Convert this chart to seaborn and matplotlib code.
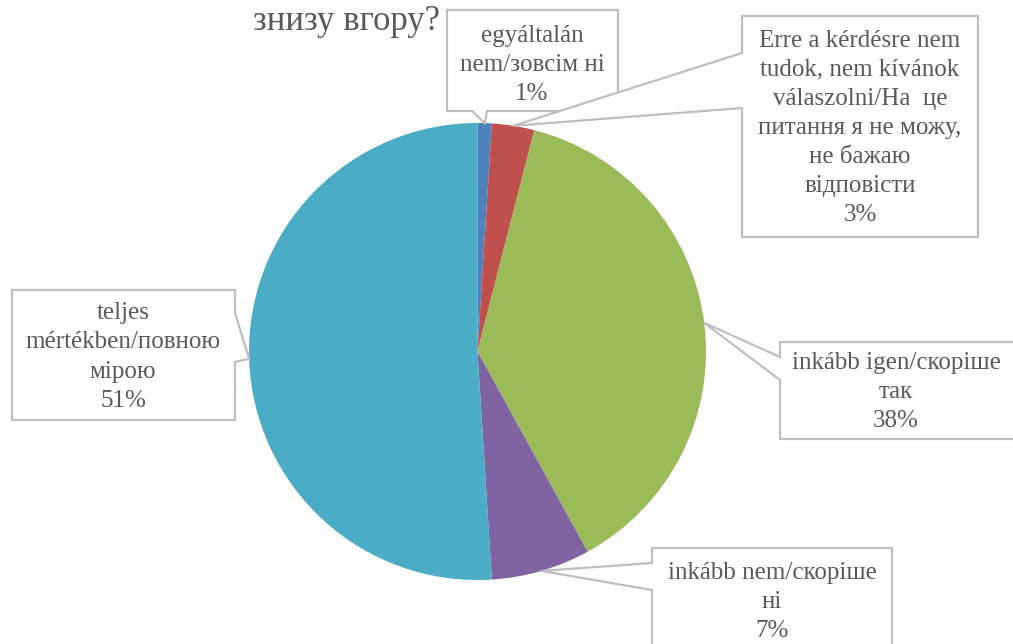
import numpy as np
import matplotlib
matplotlib.use("Agg")
import matplotlib.pyplot as plt
from matplotlib.patches import Polygon
import seaborn as sns

# slices, clockwise from 12 o'clock
labels = [
    "egyáltalán\nnem/зовсім ні",
    "Erre a kérdésre nem\ntudok, nem kívánok\nválaszolni/На  це\nпитання я не можу,\nне бажаю\nвідповісти",
    "inkább igen/скоріше\nтак",
    "inkább nem/скоріше\nні",
    "teljes\nmértékben/повною\nмірою",
]
values = [1, 3, 38, 7, 51]
title_text = "знизу вгору?"

colors = ["#4F81BD", "#C0504D", "#9BBB59", "#8064A2", "#4BACC6"]
text_color = "#595959"
box_color = "#BFBFBF"

W, H = 1013, 644

# callout boxes in pixel coords (x0, y0, x1, y1, y down), pointer side, pointer base span, text centre
boxes = [
    ((447, 10, 618, 111), "bottom", (472, 487), (532, 65)),
    ((742, 16, 978, 237), "left", (53, 108), (860, 128)),
    ((780, 342, 1030, 439), "left", (357, 380), (896, 392)),
    ((652, 548, 892, 660), "left", (563, 590), (772, 602)),
    ((12, 290, 235, 420), "right", (313, 362), (123, 357)),
]

sns.set_theme(style="white")
plt.rcParams["font.family"] = ["Liberation Serif", "DejaVu Serif"]

fig = plt.figure(figsize=(W / 100, H / 100), dpi=100)
ax = fig.add_axes([0, 0, 1, 1])

cx, cy, r = 477.5, H - 351.5, 228.5
wedges, _ = ax.pie(values, colors=colors, startangle=90, counterclock=False,
                   center=(cx, cy), radius=r, wedgeprops=dict(linewidth=0))
ax.set_xlim(0, W)
ax.set_ylim(0, H)
ax.set_aspect("equal")
ax.axis("off")


def fy(y):
    return H - y


for w, lab, val, (box, side, base, tc) in zip(wedges, labels, values, boxes):
    mid = np.deg2rad((w.theta1 + w.theta2) / 2)
    tip = (cx + r * np.cos(mid), cy + r * np.sin(mid))
    x0, y0, x1, y1 = box
    b0, b1 = base
    if side == "bottom":
        pts = [(x0, y0), (x1, y0), (x1, y1), (b1, y1), None, (b0, y1), (x0, y1)]
    elif side == "left":
        pts = [(x0, y0), (x1, y0), (x1, y1), (x0, y1), (x0, b1), None, (x0, b0)]
    else:
        pts = [(x0, y0), (x1, y0), (x1, b0), None, (x1, b1), (x1, y1), (x0, y1)]
    verts = [tip if p is None else (p[0], fy(p[1])) for p in pts]
    ax.add_patch(Polygon(verts, closed=True, facecolor="white", edgecolor=box_color,
                         linewidth=1.6, zorder=5, joinstyle="miter"))
    ax.text(tc[0], fy(tc[1]), f"{lab}\n{val}%", ha="center", va="center",
            fontsize=18, color=text_color, linespacing=1.42, zorder=6)

ax.text(253, fy(21), title_text, ha="left", va="center", fontsize=25,
        color=text_color, zorder=4)

fig.savefig("out.png", dpi=100)
